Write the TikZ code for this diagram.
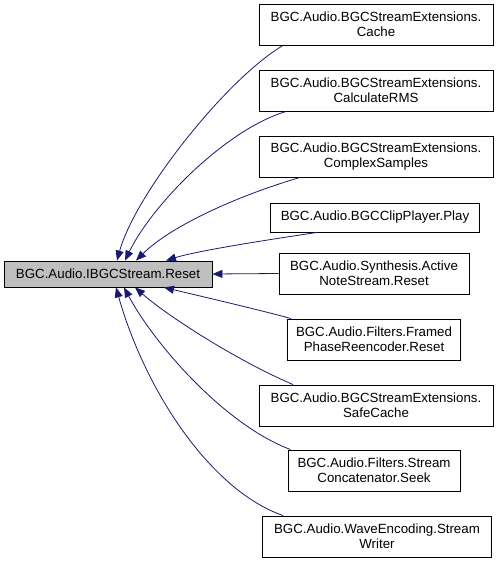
\documentclass[tikz,border=0pt]{standalone}
\usepackage{fontspec}
\setmainfont{Liberation Sans}
\usetikzlibrary{arrows.meta}
\definecolor{edgecol}{HTML}{191970}
\definecolor{mainfill}{HTML}{BFBFBF}
\tikzset{
  box/.style={draw=black, line width=0.9pt, fill=white, inner sep=0pt, align=center,
    font=\fontsize{13.3}{15.2}\selectfont},
  mainbox/.style={box, fill=mainfill},
  edge/.style={draw=edgecol, line width=0.8pt, -{Triangle[length=10pt,width=8pt]}}
}
\begin{document}
\begin{tikzpicture}[x=1pt,y=-1pt]
\useasboundingbox (0,0) rectangle (497,561);
\node[mainbox, minimum width=208, minimum height=26] (main) at (108,274) {BGC.Audio.IBGCStream.Reset};
\node[box, minimum width=234, minimum height=41] (cache) at (376,24.5) {BGC.Audio.BGCStreamExtensions.\\Cache};
\node[box, minimum width=234, minimum height=41] (calc) at (376,90.5) {BGC.Audio.BGCStreamExtensions.\\CalculateRMS};
\node[box, minimum width=234, minimum height=41] (complex) at (376,156.5) {BGC.Audio.BGCStreamExtensions.\\ComplexSamples};
\node[box, minimum width=209, minimum height=29] (play) at (375,217.5) {BGC.Audio.BGCClipPlayer.Play};
\node[box, minimum width=190, minimum height=41] (active) at (374,273.5) {BGC.Audio.Synthesis.Active\\NoteStream.Reset};
\node[box, minimum width=173, minimum height=41] (framed) at (374,339.5) {BGC.Audio.Filters.Framed\\PhaseReencoder.Reset};
\node[box, minimum width=234, minimum height=41] (safe) at (376,405.5) {BGC.Audio.BGCStreamExtensions.\\SafeCache};
\node[box, minimum width=172, minimum height=41] (concat) at (374,470.5) {BGC.Audio.Filters.Stream\\Concatenator.Seek};
\node[box, minimum width=229, minimum height=41] (writer) at (377,536.5) {BGC.Audio.WaveEncoding.Stream\\Writer};

\draw[edge] ([xshift=-93pt]cache.south) .. controls (225,80) and (135,195) .. ([xshift=9pt]main.north);
\draw[edge] ([xshift=-90pt]calc.south) .. controls (225,130) and (152,205) .. ([xshift=17pt]main.north);
\draw[edge] ([xshift=-76pt]complex.south) .. controls (240,195) and (172,225) .. ([xshift=28pt]main.north);
\draw[edge] ([xshift=-58pt]play.south) .. controls (280,238) and (200,250) .. ([xshift=58pt]main.north);
\draw[edge] (active.west) -- (main.east);
\draw[edge] ([xshift=4pt]framed.north west) .. controls (260,310) and (200,296) .. ([xshift=56pt]main.south);
\draw[edge] ([xshift=-83pt]safe.north) .. controls (240,362) and (170,318) .. ([xshift=27pt]main.south);
\draw[edge] ([xshift=3pt]concat.north west) .. controls (225,425) and (155,345) .. ([xshift=16pt]main.south);
\draw[edge] ([xshift=-94pt]writer.north) .. controls (210,490) and (145,390) .. ([xshift=8pt]main.south);
\end{tikzpicture}
\end{document}
